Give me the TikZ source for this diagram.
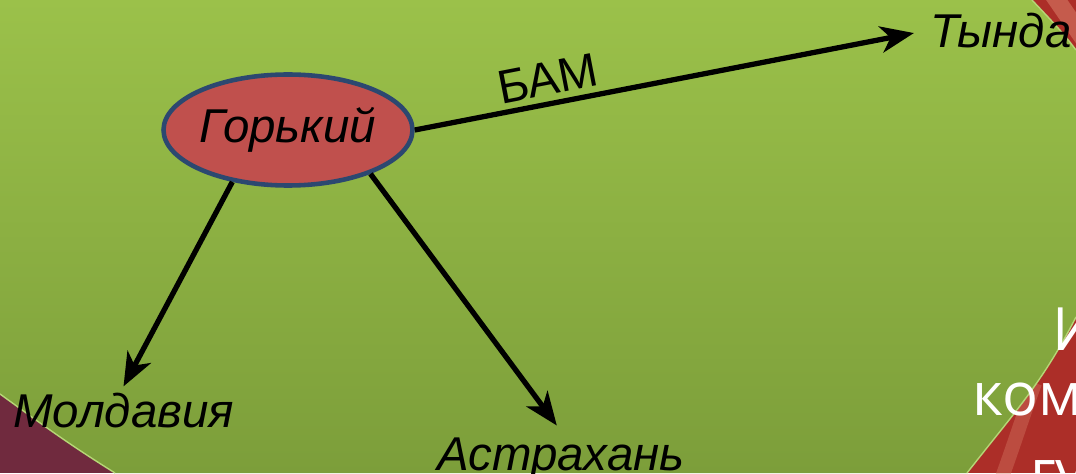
\documentclass[tikz,border=0pt]{standalone}
\usepackage{fontspec}
\setmainfont{Liberation Sans}
\newfontfamily\slidefont{Open Sans}
\usepackage{xcolor}
\usepackage{tikz}
\usetikzlibrary{arrows.meta, shapes.geometric}

\definecolor{slidered}{RGB}{172,46,40}
\definecolor{ornament}{RGB}{112,42,62}
\definecolor{streak}{RGB}{214,122,100}
\definecolor{greentop}{RGB}{155,193,74}
\definecolor{greenbot}{RGB}{124,158,58}
\definecolor{greenrim}{RGB}{182,214,118}
\definecolor{cityfill}{RGB}{192,80,77}
\definecolor{cityrim}{RGB}{44,72,112}

\begin{document}
\begin{tikzpicture}[
    font=\fontsize{27}{32}\selectfont,
    city/.style={font=\fontsize{27}{32}\selectfont\itshape},
    hub/.style={ellipse, draw=cityrim, line width=2.6pt, fill=cityfill, inner sep=0pt, minimum width=4.38cm, minimum height=2.22cm, font=\fontsize{27}{32}\selectfont\itshape},
    road/.style={-{Stealth[length=19pt, width=15pt, inset=5.5pt]}, line width=3pt},
    rim/.style={draw=greenrim, line width=0.8pt},
    heading/.style={white, inner sep=0pt, anchor=base west, font=\slidefont\fontsize{34}{40}\selectfont}
]

% Frame
\useasboundingbox (0,0) rectangle (21.52,9.46);
\clip (0,0) rectangle (21.52,9.46);

% Slide background
\fill[slidered] (0,0) rectangle (21.52,9.46);
\fill[ornament] (0,0) rectangle (4,2.5);
\draw[streak, line width=10pt, opacity=0.6] (20.9,9.8) to[out=-55,in=125] (21.8,8.5);
\draw[streak, line width=8pt, opacity=0.4] (20.0,-0.2) to[out=70,in=-110] (20.7,1.8);
\shade[top color=greentop, bottom color=greenbot] (0,1.58) to[out=-36,in=148] (2.30,0) -- (19.34,0) to[out=52,in=243] (21.52,3.12) -- (21.52,8.46) to[out=127,in=-47] (20.64,9.46) -- (0,9.46) -- cycle;
\draw[rim] (0,1.58) to[out=-36,in=148] (2.30,0);
\draw[rim] (19.34,0) to[out=52,in=243] (21.52,3.12);
\draw[rim] (21.52,8.46) to[out=127,in=-47] (20.64,9.46);

% Title lines behind the diagram
\node[heading] (headA) at (21.04,2.46) {И};
\node[heading] (headB) at (19.44,1.16) {комс};
\node[heading] (headC) at (20.60,-0.38) {гу};

% Cities
\node[hub] (gorky) at (5.76,6.86) {Горький};
\node[city, anchor=base] (tynda) at (20.02,8.50) {Тында};
\node[city, anchor=base] (moldavia) at (2.47,0.92) {Молдавия};
\node[city, anchor=base] (astrakhan) at (11.22,0.06) {Астрахань};

% Routes
\draw[road, shorten >=6pt] (gorky.east) -- node[pos=0.27, above, sloped] (bam) {БАМ} (tynda.west);
\draw[road] (gorky.223) -- (moldavia.north);
\draw[road, shorten >=4pt] (gorky.332) -- (astrakhan.north);

\end{tikzpicture}
\end{document}
